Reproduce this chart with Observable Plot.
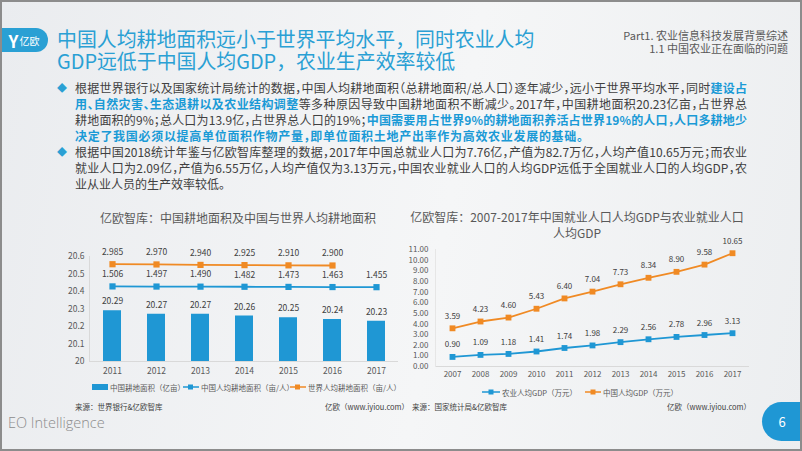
<!DOCTYPE html>
<html><head><meta charset="utf-8">
<script src="https://cdn.jsdelivr.net/npm/d3@7"></script>
<script src="https://cdn.jsdelivr.net/npm/@observablehq/plot@0.6"></script>
<style>
html,body{margin:0;padding:0;}
body{width:802px;height:451px;position:relative;overflow:hidden;font-family:"Noto Sans CJK SC","Noto Sans",sans-serif;
background:linear-gradient(100deg,#eaecef 0%,#f5f6f7 55%,#eceef0 100%);}
.abs{position:absolute;}
.frame{left:0;top:0;width:798px;height:447px;border:2px solid #8c8c8c;pointer-events:none;}
.title{left:57px;font-size:19.9px;line-height:22px;height:22px;color:#2aa0d4;white-space:nowrap;}
.hdr{right:14px;font-size:11px;line-height:13px;height:13px;color:#595959;text-align:right;white-space:nowrap;}
#logo{left:0;top:28px;width:48px;height:24px;border-radius:0 12px 12px 0;background:#2aa0d4;color:#fff;display:flex;align-items:center;justify-content:center;gap:1px;}
#bullets{left:75px;top:80px;width:672px;font-size:12px;line-height:16px;color:#404040;font-feature-settings:"halt";}
#bullets .j{text-align:justify;text-align-last:justify;}
.b{color:#1a9ad6;font-weight:bold;}
.dia{color:#2aa0d4;font-size:10px;line-height:16px;left:57px;}
.ctitle{font-size:12px;color:#595959;text-align:center;white-space:nowrap;}
.leg{font-size:7.5px;color:#595959;white-space:nowrap;display:flex;align-items:center;height:10px;}
.src{font-size:7.5px;color:#404040;white-space:nowrap;line-height:10px;}
#eo{left:8px;top:413px;font-family:"Open Sans",sans-serif;font-weight:300;font-size:14.5px;color:#8c8c8c;}
#page{left:762px;top:402px;width:44px;height:39px;border-radius:20px 0 0 20px;background:#1f97d4;color:#fff;font-size:13px;display:flex;align-items:center;justify-content:center;padding-right:4px;box-sizing:border-box;}
.chart{position:absolute;}
</style></head>
<body>
<div id="logo" class="abs"><span style="font-weight:bold;font-size:17px;line-height:1">Y</span><span style="font-size:10px">亿欧</span></div>
<div class="abs title" style="top:28px">中国人均耕地面积远小于世界平均水平，同时农业人均</div>
<div class="abs title" style="top:50px">GDP远低于中国人均GDP，农业生产效率较低</div>
<div class="abs hdr" style="top:29px">Part1. 农业信息科技发展背景综述</div>
<div class="abs hdr" style="top:42px">1.1 中国农业正在面临的问题</div>

<div class="abs dia" style="top:80px">◆</div>
<div class="abs dia" style="top:144px">◆</div>
<div id="bullets" class="abs">
<div class="j">根据世界银行以及国家统计局统计的数据，中国人均耕地面积（总耕地面积/总人口）逐年减少，远小于世界平均水平，同时<span class="b">建设占</span></div>
<div class="j"><span class="b">用、自然灾害、生态退耕以及农业结构调整</span>等多种原因导致中国耕地面积不断减少。2017年，中国耕地面积20.23亿亩，占世界总</div>
<div class="j">耕地面积的9%；总人口为13.9亿，占世界总人口的19%；<span class="b">中国需要用占世界9%的耕地面积养活占世界19%的人口，人口多耕地少</span></div>
<div style="letter-spacing:0.7px"><span class="b">决定了我国必须以提高单位面积作物产量，即单位面积土地产出率作为高效农业发展的基础。</span></div>
<div class="j">根据中国2018统计年鉴与亿欧智库整理的数据，2017年中国总就业人口为7.76亿，产值为82.7万亿，人均产值10.65万元；而农业</div>
<div class="j">就业人口为2.09亿，产值为6.55万亿，人均产值仅为3.13万元，中国农业就业人口的人均GDP远低于全国就业人口的人均GDP，农</div>
<div>业从业人员的生产效率较低。</div>
</div>

<div class="abs ctitle" style="left:60px;top:210px;width:356px;line-height:16px">亿欧智库：中国耕地面积及中国与世界人均耕地面积</div>
<div class="abs ctitle" style="left:397px;top:209px;width:360px;line-height:15.5px">亿欧智库：2007-2017年中国就业人口人均GDP与农业就业人口<br>人均GDP</div>

<div id="left" class="chart" style="left:60px;top:240px"></div>
<div id="right" class="chart" style="left:400px;top:238px"></div>

<div class="abs leg" style="left:92px;top:382px"><span style="display:inline-block;width:16px;height:6px;background:#1f97d4;margin-right:2px"></span>中国耕地面积（亿亩）</div>
<div class="abs leg" style="left:183px;top:382px"><svg width="16" height="8"><line x1="0" y1="4" x2="16" y2="4" stroke="#1f97d4" stroke-width="1.5"/><rect x="5" y="1.5" width="5" height="5" fill="#1f97d4"/></svg><span style="margin-left:2px">中国人均耕地面积（亩/人）</span></div>
<div class="abs leg" style="left:290px;top:382px"><svg width="16" height="8"><line x1="0" y1="4" x2="16" y2="4" stroke="#f08a24" stroke-width="1.5"/><rect x="5" y="1.5" width="5" height="5" fill="#f08a24"/></svg><span style="margin-left:2px">世界人均耕地面积（亩/人）</span></div>

<div class="abs leg" style="left:482px;top:387px"><svg width="18" height="8"><line x1="0" y1="4" x2="18" y2="4" stroke="#1f97d4" stroke-width="1.5"/><rect x="6.5" y="1.5" width="5" height="5" fill="#1f97d4"/></svg><span style="margin-left:2px">农业人均GDP（万元）</span></div>
<div class="abs leg" style="left:585px;top:387px"><svg width="16" height="8"><line x1="0" y1="4" x2="16" y2="4" stroke="#f08a24" stroke-width="1.5"/><rect x="5.5" y="1.5" width="5" height="5" fill="#f08a24"/></svg><span style="margin-left:2px">中国人均GDP（万元）</span></div>

<div class="abs src" style="left:75px;top:402px">来源：世界银行&amp;亿欧智库</div>
<div class="abs src" style="left:325px;top:402px">亿欧（www.iyiou.com）</div>
<div class="abs src" style="left:412px;top:402px">来源：国家统计局&amp;亿欧智库</div>
<div class="abs src" style="left:667px;top:402px">亿欧（www.iyiou.com）</div>

<div id="eo" class="abs">EO Intelligence</div>
<div id="page" class="abs">6</div>
<div class="abs frame"></div>

<script>
// ---- Left chart data ----
const landYears = ["2011","2012","2013","2014","2015","2016","2017"];
const landArea = [20.29, 20.27, 20.27, 20.26, 20.25, 20.24, 20.23];          // 中国耕地面积（亿亩）
const chinaPerCapitaLand = [1.506, 1.497, 1.490, 1.482, 1.473, 1.463, 1.455]; // 中国人均耕地面积（亩/人）
const worldPerCapitaLand = [2.985, 2.970, 2.940, 2.925, 2.910, 2.900];        // 世界人均耕地面积（亩/人）, 2011-2016
const landTicks = [20, 20.1, 20.2, 20.3, 20.4, 20.5, 20.6];
const landSecondaryDomain = [-3.5, 3.5]; // hidden secondary axis for per-capita lines

// ---- Right chart data ----
const gdpYears = ["2007","2008","2009","2010","2011","2012","2013","2014","2015","2016","2017"];
const agriGdp = [0.90, 1.09, 1.18, 1.41, 1.74, 1.98, 2.29, 2.56, 2.78, 2.96, 3.13];   // 农业人均GDP（万元）
const chinaGdp = [3.59, 4.23, 4.60, 5.43, 6.40, 7.04, 7.73, 8.34, 8.90, 9.58, 10.65]; // 中国人均GDP（万元）
const gdpTicks = [0,1,2,3,4,5,6,7,8,9,10,11];

const BLUE = "#1f97d4", ORANGE = "#f08a24", AXIS = "#d9d9d9", TXT = "#595959";
const FONT = '"Noto Sans CJK SC","Noto Sans",sans-serif';

// secondary axis mapping onto the primary (bar) axis
const secondary = d3.scaleLinear().domain(landSecondaryDomain).range([landTicks[0], landTicks[landTicks.length-1]]);
const bars = landYears.map((year, i) => ({year, value: landArea[i]}));
const cnLine = landYears.map((year, i) => ({year, value: chinaPerCapitaLand[i], pos: secondary(chinaPerCapitaLand[i])}));
const wLine = worldPerCapitaLand.map((v, i) => ({year: landYears[i], value: v, pos: secondary(v)}));

const left = Plot.plot({
  width: 350, height: 140, marginLeft: 29, marginRight: 12, marginTop: 16, marginBottom: 19,
  style: {fontFamily: FONT, fontSize: "8.5px", color: TXT, background: "transparent", overflow: "visible"},
  x: {domain: landYears, type: "band", padding: 0, label: null},
  y: {domain: [20, 20.6], label: null},
  marks: [
    Plot.barY(bars, {x: "year", y1: 20, y2: "value", fill: BLUE, insetLeft: 13, insetRight: 13}),
    Plot.text(bars, {x: "year", y: "value", text: d => d.value.toFixed(2), dy: -9, fill: "#404040"}),
    Plot.ruleY([20], {stroke: AXIS}),
    Plot.frame({anchor: "left", stroke: AXIS}),
    Plot.axisY({ticks: landTicks, tickSize: 0, tickPadding: 5, tickFormat: d3.format("~g"), label: null}),
    Plot.axisX({tickSize: 0, tickPadding: 6, label: null}),
    Plot.line(wLine, {x: "year", y: "pos", stroke: ORANGE, strokeWidth: 1.8}),
    Plot.dot(wLine, {x: "year", y: "pos", symbol: "square", fill: ORANGE, r: 3.5}),
    Plot.text(wLine, {x: "year", y: "pos", text: d => d.value.toFixed(3), dy: -12, fill: "#404040"}),
    Plot.line(cnLine, {x: "year", y: "pos", stroke: BLUE, strokeWidth: 1.8}),
    Plot.dot(cnLine, {x: "year", y: "pos", symbol: "square", fill: BLUE, r: 3.5}),
    Plot.text(cnLine, {x: "year", y: "pos", text: d => d.value.toFixed(3), dy: -12, fill: "#404040"})
  ]
});
document.getElementById("left").append(left);

const agri = gdpYears.map((year, i) => ({year, value: agriGdp[i]}));
const china = gdpYears.map((year, i) => ({year, value: chinaGdp[i]}));

const right = Plot.plot({
  width: 370, height: 150, marginLeft: 35, marginRight: 21, marginTop: 11, marginBottom: 22,
  style: {fontFamily: FONT, fontSize: "8px", color: TXT, background: "transparent", overflow: "visible"},
  x: {domain: gdpYears, type: "point", padding: 0.5, label: null},
  y: {domain: [0, 11], label: null},
  marks: [
    Plot.ruleY([0], {stroke: AXIS}),
    Plot.frame({anchor: "left", stroke: "#e6e6e6"}),
    Plot.axisY({ticks: gdpTicks, tickSize: 0, tickPadding: 7, tickFormat: d3.format(".2f"), label: null}),
    Plot.axisX({tickSize: 0, tickPadding: 5, label: null}),
    Plot.line(china, {x: "year", y: "value", stroke: ORANGE, strokeWidth: 1.8}),
    Plot.dot(china, {x: "year", y: "value", symbol: "square", fill: ORANGE, r: 3.3}),
    Plot.text(china, {x: "year", y: "value", text: d => d.value.toFixed(2), dy: -12, fill: "#404040"}),
    Plot.line(agri, {x: "year", y: "value", stroke: BLUE, strokeWidth: 1.8}),
    Plot.dot(agri, {x: "year", y: "value", symbol: "square", fill: BLUE, r: 3.3}),
    Plot.text(agri, {x: "year", y: "value", text: d => d.value.toFixed(2), dy: -12, fill: "#404040"})
  ]
});
document.getElementById("right").append(right);
</script>
</body></html>
